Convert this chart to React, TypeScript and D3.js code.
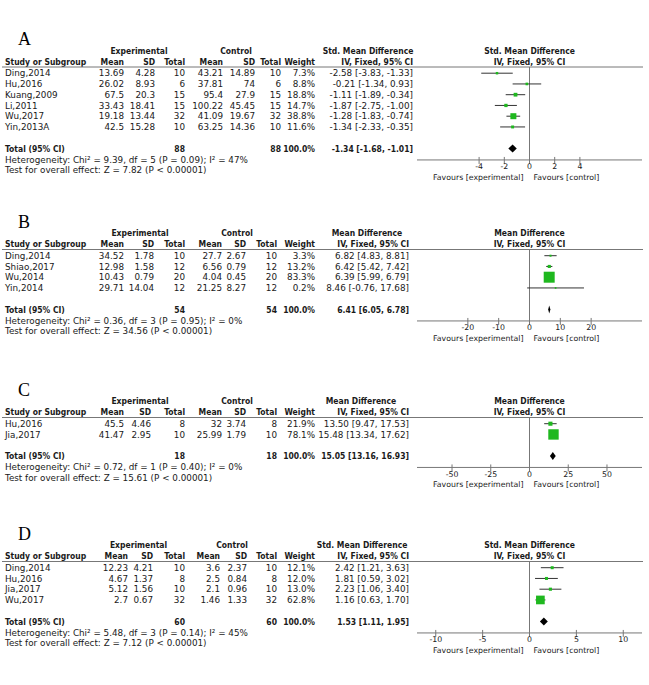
import React from "react";
import * as d3 from "d3";

// ---------- Panel A ----------
const studiesA = ["Ding,2014", "Hu,2016", "Kuang,2009", "Li,2011", "Wu,2017", "Yin,2013A"];
const expMeanA = [13.69, 26.02, 67.5, 33.43, 19.18, 42.5];
const expSDA = [4.28, 8.93, 20.3, 18.41, 13.44, 15.28];
const expNA = [10, 6, 15, 15, 32, 10];
const ctrlMeanA = [43.21, 37.81, 95.4, 100.22, 41.09, 63.25];
const ctrlSDA = [14.89, 74, 27.9, 45.45, 19.67, 14.36];
const ctrlNA = [10, 6, 15, 15, 32, 10];
const weightA = [7.3, 8.8, 18.8, 14.7, 38.8, 11.6];
const estA = [-2.58, -0.21, -1.11, -1.87, -1.28, -1.34];
const loA = [-3.83, -1.34, -1.89, -2.75, -1.83, -2.33];
const hiA = [-1.33, 0.93, -0.34, -1.0, -0.74, -0.35];
const totalA = [88, 88];
const pooledA = [-1.34, -1.68, -1.01];
const hetA = "Heterogeneity: Chi² = 9.39, df = 5 (P = 0.09); I² = 47%";
const testA = "Test for overall effect: Z = 7.82 (P < 0.00001)";
const ticksA = [-4, -2, 0, 2, 4];
const extentA = 8.93;

// ---------- Panel B ----------
const studiesB = ["Ding,2014", "Shiao,2017", "Wu,2014", "Yin,2014"];
const expMeanB = [34.52, 12.98, 10.43, 29.71];
const expSDB = [1.78, 1.58, 0.79, 14.04];
const expNB = [10, 12, 20, 12];
const ctrlMeanB = [27.7, 6.56, 4.04, 21.25];
const ctrlSDB = [2.67, 0.79, 0.45, 8.27];
const ctrlNB = [10, 12, 20, 12];
const weightB = [3.3, 13.2, 83.3, 0.2];
const estB = [6.82, 6.42, 6.39, 8.46];
const loB = [4.83, 5.42, 5.99, -0.76];
const hiB = [8.81, 7.42, 6.79, 17.68];
const totalB = [54, 54];
const pooledB = [6.41, 6.05, 6.78];
const hetB = "Heterogeneity: Chi² = 0.36, df = 3 (P = 0.95); I² = 0%";
const testB = "Test for overall effect: Z = 34.56 (P < 0.00001)";
const ticksB = [-20, -10, 0, 10, 20];
const extentB = 36.5;

// ---------- Panel C ----------
const studiesC = ["Hu,2016", "Jia,2017"];
const expMeanC = [45.5, 41.47];
const expSDC = [4.46, 2.95];
const expNC = [8, 10];
const ctrlMeanC = [32, 25.99];
const ctrlSDC = [3.74, 1.79];
const ctrlNC = [8, 10];
const weightC = [21.9, 78.1];
const estC = [13.5, 15.48];
const loC = [9.47, 13.34];
const hiC = [17.53, 17.62];
const totalC = [18, 18];
const pooledC = [15.05, 13.16, 16.93];
const hetC = "Heterogeneity: Chi² = 0.72, df = 1 (P = 0.40); I² = 0%";
const testC = "Test for overall effect: Z = 15.61 (P < 0.00001)";
const ticksC = [-50, -25, 0, 25, 50];
const extentC = 72.6;

// ---------- Panel D ----------
const studiesD = ["Ding,2014", "Hu,2016", "Jia,2017", "Wu,2017"];
const expMeanD = [12.23, 4.67, 5.12, 2.7];
const expSDD = [4.21, 1.37, 1.56, 0.67];
const expND = [10, 8, 10, 32];
const ctrlMeanD = [3.6, 2.5, 2.1, 1.46];
const ctrlSDD = [2.37, 0.84, 0.96, 1.33];
const ctrlND = [10, 8, 10, 32];
const weightD = [12.1, 12.0, 13.0, 62.8];
const estD = [2.42, 1.81, 2.23, 1.16];
const loD = [1.21, 0.59, 1.06, 0.63];
const hiD = [3.63, 3.02, 3.4, 1.7];
const totalD = [60, 60];
const pooledD = [1.53, 1.11, 1.95];
const hetD = "Heterogeneity: Chi² = 5.48, df = 3 (P = 0.14); I² = 45%";
const testD = "Test for overall effect: Z = 7.12 (P < 0.00001)";
const ticksD = [-10, -5, 0, 5, 10];
const extentD = 12.0;

const labels = ["A", "B", "C", "D"];
const measures = ["Std. Mean Difference", "Mean Difference", "Mean Difference", "Std. Mean Difference"];
const colHeads = ["Mean", "SD", "Total", "Mean", "SD", "Total", "Weight"];

const panelData = [
  { studies: studiesA, cols: [expMeanA, expSDA, expNA, ctrlMeanA, ctrlSDA, ctrlNA], weight: weightA, est: estA, lo: loA, hi: hiA, total: totalA, pooled: pooledA, het: hetA, test: testA, ticks: ticksA, extent: extentA },
  { studies: studiesB, cols: [expMeanB, expSDB, expNB, ctrlMeanB, ctrlSDB, ctrlNB], weight: weightB, est: estB, lo: loB, hi: hiB, total: totalB, pooled: pooledB, het: hetB, test: testB, ticks: ticksB, extent: extentB },
  { studies: studiesC, cols: [expMeanC, expSDC, expNC, ctrlMeanC, ctrlSDC, ctrlNC], weight: weightC, est: estC, lo: loC, hi: hiC, total: totalC, pooled: pooledC, het: hetC, test: testC, ticks: ticksC, extent: extentC },
  { studies: studiesD, cols: [expMeanD, expSDD, expND, ctrlMeanD, ctrlSDD, ctrlND], weight: weightD, est: estD, lo: loD, hi: hiD, total: totalD, pooled: pooledD, het: hetD, test: testD, ticks: ticksD, extent: extentD },
];

// layout (pixels)
const layouts = [
  { h2: 61.5, cols: [124, 155, 185, 223, 255, 281, 315], ci: 413, ciHead: 368, expHead: 139, ctrlHead: 236 },
  { h2: 244, cols: [124, 154, 185, 222, 246, 277, 315], ci: 409, ciHead: 367, expHead: 140, ctrlHead: 237 },
  { h2: 412, cols: [124, 151, 185, 222, 246, 277, 315], ci: 409, ciHead: 361, expHead: 140, ctrlHead: 237 },
  { h2: 556, cols: [128, 153, 185, 220, 247, 277, 315], ci: 409, ciHead: 362, expHead: 138.5, ctrlHead: 232 },
];

const REG = "'DejaVu Sans', Verdana, sans-serif";
const BOLD = "'DejaVu Sans Condensed', 'DejaVu Sans', Verdana, sans-serif";
const TXT = "#1a1a1a";
const GRID = "#777";
const GREEN = "#1fb81f";

const fmtCI = (e: number, l: number, h: number) => `${e.toFixed(2)} [${l.toFixed(2)}, ${h.toFixed(2)}]`;
const fmtW = (w: number) => `${w.toFixed(1)}%`;

function T({ x, y, children, anchor = "start", bold = false, size }: any) {
  return (
    <text
      x={x}
      y={y}
      textAnchor={anchor}
      fontFamily={bold ? BOLD : REG}
      fontWeight={bold ? "bold" : "normal"}
      fontStretch={bold ? "condensed" : "normal"}
      fontSize={size ?? (bold ? 8.5 : 8.8)}
      fill={TXT}
    >
      {children}
    </text>
  );
}

function Panel({ d, L, label, measure }: any) {
  const h2 = L.h2;
  const pitch = 10.75;
  const rowY = (i: number) => h2 + 11.7 + i * pitch;
  const n = d.studies.length;
  const totalY = rowY(n - 1) + 21.5;
  const hetY = totalY + 11;
  const testY = totalY + 21.8;
  const axisY = totalY + 11.5;
  const lineY = h2 + 5.5;
  const h1 = h2 - 10.8;
  const x = d3.scaleLinear().domain([-d.extent, d.extent]).range([417, 642]);
  const size = d3.scaleLinear().domain([0, 100]).range([1.65, 12.85]);
  const x0 = x(0);
  const bo = 3.2;
  const [pe, pl, ph] = d.pooled;

  return (
    <g>
      <text x={18} y={h2 - 16.5} fontFamily="'Liberation Serif', 'Times New Roman', serif" fontSize={18} fill="#000">
        {label}
      </text>
      {/* header row 1 */}
      <T x={L.expHead} y={h1 + bo} anchor="middle" bold>Experimental</T>
      <T x={L.ctrlHead} y={h1 + bo} anchor="middle" bold>Control</T>
      <T x={L.ciHead} y={h1 + bo} anchor="middle" bold>{measure}</T>
      <T x={x0} y={h1 + bo} anchor="middle" bold>{measure}</T>
      {/* header row 2 */}
      <T x={5} y={h2 + bo} bold>Study or Subgroup</T>
      {colHeads.map((c, i) => (
        <T key={i} x={L.cols[i]} y={h2 + bo} anchor="end" bold>{c}</T>
      ))}
      <T x={L.ci} y={h2 + bo} anchor="end" bold>IV, Fixed, 95% CI</T>
      <T x={x0} y={h2 + bo} anchor="middle" bold>IV, Fixed, 95% CI</T>
      <line x1={2} x2={643} y1={lineY} y2={lineY} stroke={GRID} strokeWidth={1} />
      {/* zero line */}
      <line x1={x0} x2={x0} y1={lineY} y2={axisY} stroke={GRID} strokeWidth={1} />
      {/* rows */}
      {d.studies.map((s: string, i: number) => {
        const y = rowY(i);
        const sz = size(d.weight[i]);
        return (
          <g key={s}>
            <T x={5} y={y + bo}>{s}</T>
            {d.cols.map((col: number[], j: number) => (
              <T key={j} x={L.cols[j]} y={y + bo} anchor="end">{String(col[i])}</T>
            ))}
            <T x={L.cols[6]} y={y + bo} anchor="end">{fmtW(d.weight[i])}</T>
            <T x={L.ci} y={y + bo} anchor="end">{fmtCI(d.est[i], d.lo[i], d.hi[i])}</T>
            <line x1={x(d.lo[i])} x2={x(d.hi[i])} y1={y} y2={y} stroke="#333" strokeWidth={1} />
            <rect x={x(d.est[i]) - sz / 2} y={y - sz / 2} width={sz} height={sz} fill={GREEN} />
          </g>
        );
      })}
      {/* total */}
      <T x={5} y={totalY + bo} bold>Total (95% CI)</T>
      <T x={L.cols[2]} y={totalY + bo} anchor="end" bold>{String(d.total[0])}</T>
      <T x={L.cols[5]} y={totalY + bo} anchor="end" bold>{String(d.total[1])}</T>
      <T x={L.cols[6]} y={totalY + bo} anchor="end" bold>100.0%</T>
      <T x={L.ci} y={totalY + bo} anchor="end" bold>{fmtCI(pe, pl, ph)}</T>
      <polygon
        points={`${x(pl)},${totalY} ${x(pe)},${totalY - 4} ${x(ph)},${totalY} ${x(pe)},${totalY + 4}`}
        fill="#000"
      />
      <T x={5} y={hetY + bo}>{d.het}</T>
      <T x={5} y={testY + bo}>{d.test}</T>
      {/* axis */}
      <line x1={417} x2={642} y1={axisY} y2={axisY} stroke={GRID} strokeWidth={1} />
      {d.ticks.map((t: number) => (
        <g key={t}>
          <line x1={x(t)} x2={x(t)} y1={axisY - 3} y2={axisY + 4} stroke={GRID} strokeWidth={1} />
          <T x={x(t)} y={axisY + 9.5} anchor="middle" size={7.8}>{String(t)}</T>
        </g>
      ))}
      <T x={x0 - 6} y={axisY + 19.8} anchor="end" size={7.8}>Favours [experimental]</T>
      <T x={x0 + 4} y={axisY + 19.8} size={7.8}>Favours [control]</T>
    </g>
  );
}

export default function App() {
  return (
    <svg
      width={649}
      height={685}
      style={{ position: "absolute", left: 0, top: 0, background: "#fff" }}
    >
      <rect width={649} height={685} fill="#fff" />
      {panelData.map((d, i) => (
        <Panel key={i} d={d} L={layouts[i]} label={labels[i]} measure={measures[i]} />
      ))}
    </svg>
  );
}
